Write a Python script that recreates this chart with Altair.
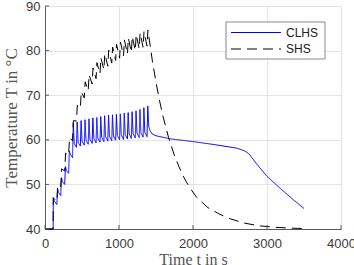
import altair as alt
import pandas as pd

series_names = ["CLHS", "SHS"]
series_colors = ["#0000ff", "#000000"]

clhs_t = [0, 110, 112, 125, 160, 170, 183, 213, 223, 236, 266, 276, 289, 319, 329, 342,
          372, 382, 395, 425, 435, 448, 478, 488, 501, 531, 541, 554, 584, 594, 607,
          637, 647, 660, 690, 700, 713, 743, 753, 766, 796, 806, 819, 849, 859, 872,
          902, 912, 925, 955, 965, 978, 1008, 1018, 1031, 1061, 1071, 1084, 1114, 1124, 1137,
          1167, 1177, 1190, 1220, 1230, 1243, 1273, 1283, 1296, 1326, 1336, 1349,
          1379, 1389, 1402, 1420, 1450, 1500, 1700, 2000, 2300, 2600, 2700, 2760,
          2850, 3000, 3180, 3360, 3500]
clhs_T = [40, 40, 47, 46.3, 45.5, 49, 48.2, 47.5, 51.5, 50.6, 50, 54, 53.1, 52.5, 57.5, 56.8,
          56.0, 63.8, 59.2, 58.3, 64.0, 59.4, 58.6, 64.3, 59.7, 58.8, 64.5, 59.9, 59.0, 64.7, 60.1,
          59.2, 64.9, 60.3, 59.3, 65.0, 60.4, 59.5, 65.2, 60.6, 59.6, 65.4, 60.7, 59.7, 65.5, 60.8,
          59.8, 65.6, 60.9, 59.9, 65.7, 61.0, 60.0, 65.8, 61.1, 60.1, 66.0, 61.2, 60.2, 66.1, 61.3,
          60.3, 66.3, 61.4, 60.4, 66.5, 61.5, 60.5, 66.8, 61.6, 60.6, 67.2, 61.7,
          60.7, 67.6, 63.0, 62.0, 61.3, 60.9, 60.2, 59.6, 58.9, 58.1, 57.5, 56.8,
          54.8, 51.8, 49.1, 46.5, 44.6]

shs_t = [0, 110, 112, 160, 172, 213, 225, 266, 278, 319, 331, 372, 384, 425, 437, 478, 490,
         531, 543, 584, 596, 637, 649, 690, 702, 743, 755, 796, 808, 849, 861, 902, 914,
         955, 967, 1008, 1020, 1061, 1073, 1114, 1126, 1167, 1179, 1220, 1232, 1273, 1285,
         1326, 1338, 1379, 1391, 1450, 1500, 1550, 1600, 1670, 1750, 1850, 1950, 2050,
         2200, 2350, 2500, 2700, 2900, 3100, 3300, 3500]
shs_T = [40, 40, 47, 46.2, 50, 49.5, 53.5, 53, 57, 56.5, 60.5, 59.8, 64.3, 64.2, 67.8, 67.2, 70.8,
         69.4, 73.0, 71.0, 74.6, 72.5, 76.1, 73.7, 77.3, 74.8, 78.4, 75.7, 79.3, 76.5, 80.1, 77.2, 80.8,
         77.8, 81.4, 78.3, 81.9, 78.8, 82.4, 79.2, 82.8, 79.6, 83.2, 80.0, 83.6, 80.4, 84.0,
         80.7, 84.3, 81.0, 84.6, 77.8, 72.9, 68.6, 64.9, 60.5, 56.4, 52.4, 49.4, 47.1,
         44.8, 43.4, 42.3, 41.3, 40.7, 40.4, 40.2, 40.1]

x_ticks = [0, 1000, 2000, 3000, 4000]
y_ticks = [40, 50, 60, 70, 80, 90]

W, H = 296, 223
AXIS_COLOR = "#5a5a5a"
TEXT_COLOR = "#3a3a3a"
TITLE_COLOR = "#555555"

df = pd.concat([
    pd.DataFrame({"t": clhs_t, "T": clhs_T, "series": series_names[0]}),
    pd.DataFrame({"t": shs_t, "T": shs_T, "series": series_names[1]}),
], ignore_index=True)
df["i"] = range(len(df))

xscale = alt.Scale(domain=[0, 4000], nice=False)
yscale = alt.Scale(domain=[40, 90], nice=False)

x_axis = alt.Axis(values=x_ticks, format="d", title="Time t in s", grid=True, labelPadding=8,
                  titlePadding=1, titleFontSize=16, labelFlush=False)
y_axis = alt.Axis(values=y_ticks, format="d", title="Temperature T in °C", grid=True, labelPadding=5,
                  titlePadding=5, titleFontSize=17, labelFlush=False)

lines = alt.Chart(df).mark_line(strokeWidth=1).encode(
    x=alt.X("t:Q", scale=xscale, axis=x_axis),
    y=alt.Y("T:Q", scale=yscale, axis=y_axis),
    color=alt.Color("series:N", scale=alt.Scale(domain=series_names, range=series_colors), legend=None),
    strokeDash=alt.StrokeDash("series:N", scale=alt.Scale(domain=series_names, range=[[1, 0], [10, 6]]), legend=None),
    order="i:Q",
)

xt = alt.Chart(pd.DataFrame({"t": x_ticks})).mark_rule(color=AXIS_COLOR, strokeWidth=1).encode(
    x=alt.X("t:Q", scale=xscale, axis=x_axis), y=alt.value(H), y2=alt.value(H - 4))
yt = alt.Chart(pd.DataFrame({"T": y_ticks})).mark_rule(color=AXIS_COLOR, strokeWidth=1).encode(
    y=alt.Y("T:Q", scale=yscale, axis=y_axis), x=alt.value(0), x2=alt.value(4))

one = pd.DataFrame({"a": [0]})
leg_box = alt.Chart(one).mark_rect(fill="white", stroke="#8a8a8a", strokeWidth=1).encode(
    x=alt.value(181), x2=alt.value(280), y=alt.value(16), y2=alt.value(53))
leg_r1 = alt.Chart(one).mark_rule(color=series_colors[0], strokeWidth=1).encode(
    x=alt.value(186), x2=alt.value(236), y=alt.value(26.5))
leg_r2 = alt.Chart(one).mark_rule(color=series_colors[1], strokeWidth=1, strokeDash=[10, 6]).encode(
    x=alt.value(186), x2=alt.value(236), y=alt.value(43))
leg_t1 = alt.Chart(one).mark_text(align="left", baseline="middle", fontSize=12, font="Liberation Sans",
                                  color="#202020", text=series_names[0]).encode(
    x=alt.value(241), y=alt.value(26.5))
leg_t2 = alt.Chart(one).mark_text(align="left", baseline="middle", fontSize=12, font="Liberation Sans",
                                  color="#202020", text=series_names[1]).encode(
    x=alt.value(241), y=alt.value(43))

chart = alt.layer(lines, xt, yt, leg_box, leg_r1, leg_r2, leg_t1, leg_t2).properties(
    width=W, height=H,
    padding={"left": 45, "top": 6, "right": 13, "bottom": 36},
    autosize=alt.AutoSizeParams(type="none"),
).configure_view(stroke=None).configure_axis(
    domainColor=AXIS_COLOR, domainWidth=1, tickSize=0,
    gridColor="#e3e3e3", gridWidth=1,
    labelFont="Liberation Sans", labelFontSize=13, labelColor=TEXT_COLOR,
    titleFont="Liberation Serif", titleFontWeight="normal", titleColor=TITLE_COLOR,
)

chart.save("out.html", embed_options={"renderer": "svg", "actions": False})
